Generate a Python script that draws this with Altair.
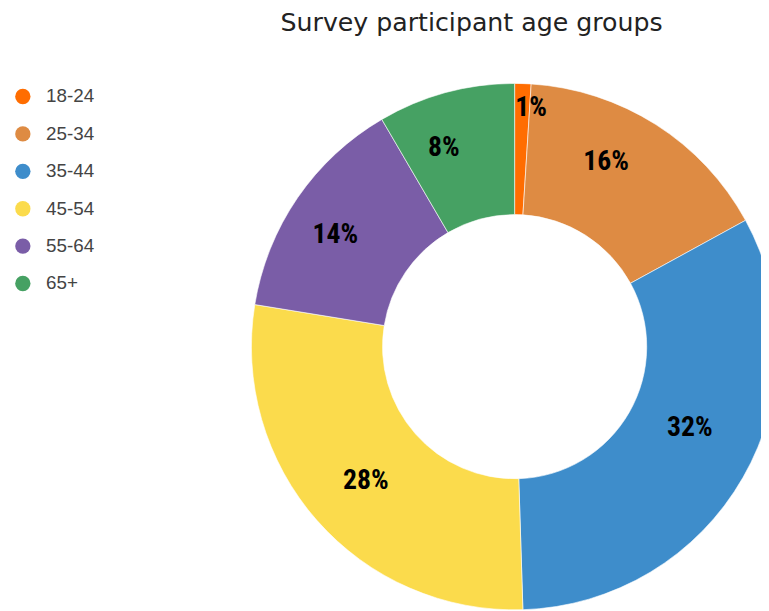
import altair as alt
import pandas as pd

groups = ["18-24", "25-34", "35-44", "45-54", "55-64", "65+"]
shares = [1.0, 16.0, 32.4, 28.0, 14.0, 8.4]
colors = ["#FF6D01", "#DE8B43", "#3E8DCB", "#FBDB4C", "#7A5DA7", "#46A163"]

total = sum(shares)
df = pd.DataFrame({
    "group": groups,
    "share": shares,
    "order": list(range(len(groups))),
})
df["pct"] = [v / total * 100 for v in shares]
df["label"] = [f"{round(v / total * 100)}%" for v in shares]

CX, CY = 512, 291
LABEL_FONT = "Liberation Sans Narrow, Roboto Condensed, DejaVu Sans Condensed, sans-serif"

base = alt.Chart(df).encode(
    theta=alt.Theta("share:Q", stack=True),
    order=alt.Order("order:Q"),
)

arcs = base.mark_arc(
    innerRadius=133.5, outerRadius=266, stroke="white", strokeWidth=0.6
).encode(
    color=alt.Color(
        "group:N",
        scale=alt.Scale(domain=groups, range=colors),
        legend=alt.Legend(
            title=None,
            orient="none",
            legendX=5.5,
            legendY=28.7,
            symbolType="circle",
            symbolSize=240,
            symbolStrokeWidth=0,
            symbolOpacity=1,
            labelFont="Liberation Sans, Arial, sans-serif",
            labelFontSize=19,
            labelColor="#444444",
            labelOffset=14,
            rowPadding=17.8,
            padding=0,
        ),
    ),
    x=alt.value(CX),
    y=alt.value(CY),
)

# in-ring labels for regular slices
labels = base.transform_filter("datum.pct >= 3").mark_text(
    font=LABEL_FONT,
    fontSize=28,
    fontWeight="bold",
    color="#000000",
    dx=-6,
    dy=-8,
    align="center",
    baseline="middle",
).encode(
    text="label:N",
    radius=alt.value(204),
    x=alt.value(CX),
    y=alt.value(CY),
)

# labels for very thin slices, pushed outward
small_labels = base.transform_filter("datum.pct < 3").mark_text(
    font=LABEL_FONT,
    fontSize=28,
    fontWeight="bold",
    color="#000000",
    dx=9,
    dy=-1,
    align="center",
    baseline="middle",
).encode(
    text="label:N",
    radius=alt.value(240),
    x=alt.value(CX),
    y=alt.value(CY),
)

chart = alt.layer(arcs, labels, small_labels).properties(
    width=761,
    height=563,
    padding={"top": 48, "left": 0, "right": 0, "bottom": 0},
    autosize="none",
    title=alt.TitleParams(
        "Survey participant age groups",
        font="DejaVu Sans, sans-serif",
        fontSize=25.5,
        fontWeight="normal",
        color="#222222",
        anchor="middle",
        frame="group",
        dx=88,
        offset=22,
    ),
).configure_view(stroke=None)

chart.save("out.html", embed_options={"renderer": "svg", "actions": False})
